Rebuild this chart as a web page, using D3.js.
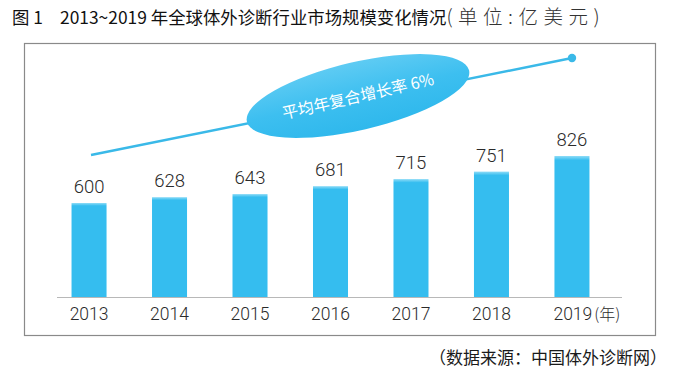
<!DOCTYPE html>
<html><head><meta charset="utf-8">
<script src="https://cdn.jsdelivr.net/npm/d3@7"></script>
<style>
body{margin:0;background:#fff;}
svg{display:block;}
</style></head>
<body>
<svg id="c" width="679" height="382"></svg>
<script>
const categories = ["2013","2014","2015","2016","2017","2018","2019"];
const values = [600,628,643,681,715,751,826];
const titleLabel = "图 1";
const titleText = "2013~2019 年全球体外诊断行业市场规模变化情况";
const unitText = "(单位:亿美元)";
const sourceText = "（数据来源：中国体外诊断网）";
const cagrText = "平均年复合增长率 6%";
const yearUnit = "(年)";

const svg = d3.select("#c");
const blue = "#35bdef";
const numFont = "Roboto, 'Liberation Sans', Arial, sans-serif";
const cjkFont = "'Noto Sans CJK SC', sans-serif";

const defs = svg.append("defs");
const bg = defs.append("linearGradient").attr("id","barg").attr("x1",0).attr("y1",0).attr("x2",0).attr("y2",1);
bg.append("stop").attr("offset","0").attr("stop-color","#8fdcf7");
bg.append("stop").attr("offset","0.03").attr("stop-color",blue);
bg.append("stop").attr("offset","1").attr("stop-color",blue);
const eg = defs.append("linearGradient").attr("id","ellg").attr("x1",0).attr("y1",0).attr("x2",0).attr("y2",1);
eg.append("stop").attr("offset","0").attr("stop-color","#5ecbf3");
eg.append("stop").attr("offset","0.5").attr("stop-color","#3dbff0");
eg.append("stop").attr("offset","1").attr("stop-color","#2fb8ec");

// frame
svg.append("rect").attr("x",24.5).attr("y",43.5).attr("width",631).attr("height",292)
  .attr("fill","none").attr("stroke","#8a8a8a").attr("stroke-width",1.2);

// title
svg.append("text").attr("x",12).attr("y",24).attr("font-family",cjkFont)
  .attr("font-size",17.4).attr("fill","#111").attr("xml:space","preserve").text(titleLabel);
const t = svg.append("text").attr("x",60).attr("y",24).attr("font-family",cjkFont)
  .attr("font-size",17.4).attr("fill","#111");
t.append("tspan").text(titleText);
t.append("tspan").attr("fill","#333").attr("font-weight",300).attr("font-size",19.5)
  .attr("letter-spacing",5.5).text(unitText);

// scales
const x = d3.scaleBand().domain(categories).range([49,612]).paddingInner(0.565).paddingOuter(0.28);
const y = d3.scaleLinear().domain([148, 826]).range([297, 156]);

// axis
const xAxis = svg.append("g").attr("transform","translate(0,297)")
  .call(d3.axisBottom(x).tickSize(0).tickPadding(11));
xAxis.select(".domain").attr("stroke","#b8b8b8").attr("d","M57,0.5H622");
xAxis.selectAll("text").attr("font-family",numFont).attr("font-size",17.5).attr("fill","#2a2a2a")
  .attr("font-weight",300);
xAxis.selectAll(".tick").filter(d=>d===categories[categories.length-1]).select("text")
  .attr("text-anchor","start").attr("x",-x.bandwidth()/2-1)
  .append("tspan").attr("font-family",cjkFont).attr("font-size",16).attr("dx",2).text(yearUnit);

// bars
svg.append("g").selectAll("rect").data(values).join("rect")
  .attr("x",(d,i)=>x(categories[i])).attr("width",x.bandwidth())
  .attr("y",d=>y(d)).attr("height",d=>y.range()[0]-y(d))
  .attr("fill","url(#barg)");

// value labels
svg.append("g").selectAll("text").data(values).join("text")
  .attr("x",(d,i)=>x(categories[i])+x.bandwidth()/2).attr("y",d=>y(d)-10)
  .attr("text-anchor","middle").attr("font-family",numFont).attr("font-size",18.5)
  .attr("font-weight",300).attr("fill","#2a2a2a").text(d=>d);

// trend line
const p0 = [91,155], p1 = [572,58];
svg.append("line").attr("x1",p0[0]).attr("y1",p0[1]).attr("x2",p1[0]).attr("y2",p1[1])
  .attr("stroke","#3ab9e8").attr("stroke-width",2.4);
svg.append("circle").attr("cx",p1[0]).attr("cy",p1[1]).attr("r",4.2).attr("fill","#3ab9e8");

// ellipse callout
const ang = -13;
const eg2 = svg.append("g").attr("transform",`translate(358,96) rotate(${ang})`);
eg2.append("ellipse").attr("rx",114).attr("ry",34).attr("fill","url(#ellg)");
eg2.append("text").attr("x",0).attr("y",6).attr("text-anchor","middle")
  .attr("font-family",cjkFont).attr("font-size",16).attr("fill","#fff").text(cagrText);

// source
svg.append("text").attr("x",667).attr("y",364).attr("text-anchor","end")
  .attr("font-family",cjkFont).attr("font-size",17).attr("fill","#1a1a1a").text(sourceText);
</script>
</body></html>
